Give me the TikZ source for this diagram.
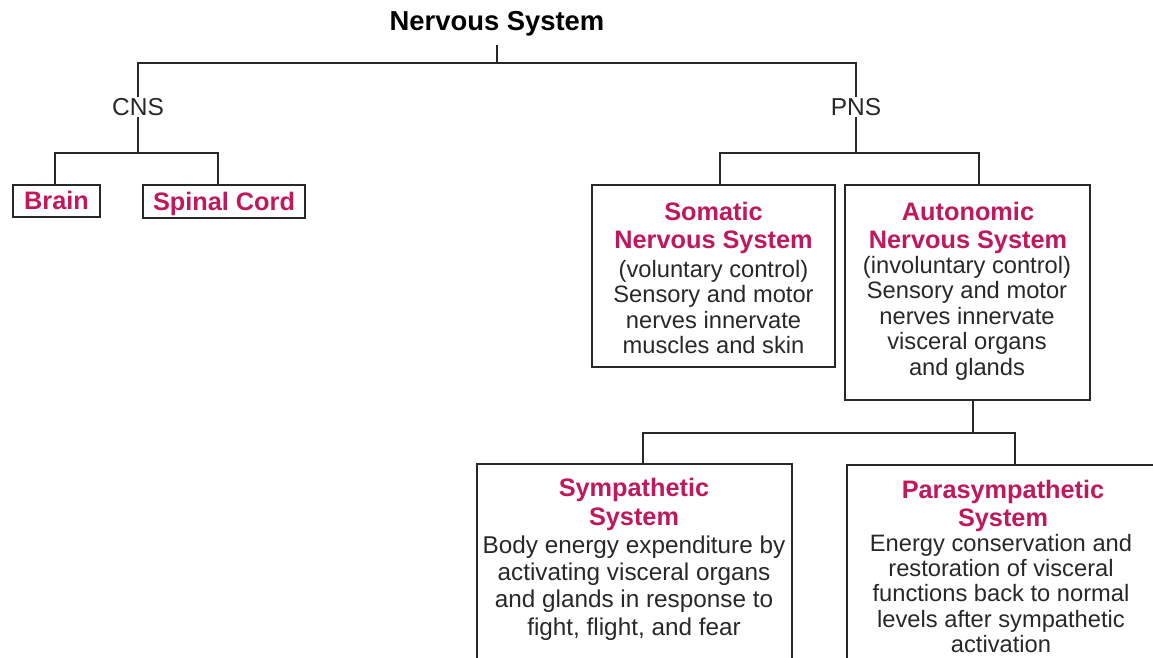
\documentclass[tikz,border=0pt]{standalone}
\usepackage{fontspec}
\setmainfont{Liberation Sans}
\definecolor{mag}{RGB}{192,24,92}
\definecolor{ink}{RGB}{40,40,40}
\begin{document}
\begin{tikzpicture}[x=1pt,y=-1pt,
  box/.style={draw=ink, line width=2.8pt, inner sep=0pt},
  conn/.style={draw=ink, line width=2.8pt, line join=miter},
  hdr/.style={text=mag, font=\bfseries\fontsize{25.3}{28}\selectfont, align=center, inner sep=0pt},
  body/.style={text=ink, font=\fontsize{23.7}{25.5}\selectfont, align=center, inner sep=0pt},
  lbl/.style={text=ink, font=\fontsize{24.5}{25}\selectfont, inner sep=1.5pt}]
\useasboundingbox (0,0) rectangle (1153,658);
\clip (0,0) rectangle (1153,658);

% title
\node[text=black, font=\bfseries\fontsize{27.4}{30}\selectfont, inner sep=2pt] (title) at (497,24) {Nervous System};
\node[lbl] (cns) at (138,107) {CNS};
\node[lbl] (pns) at (856,107) {PNS};

% CNS boxes
\node[box, hdr, text height=17pt, text depth=0pt, minimum width=87pt, minimum height=32pt] (brain) at (56.5,201) {Brain};
\node[box, hdr, text height=17pt, text depth=0pt, minimum width=162pt, minimum height=33pt] (spin) at (224,201.5) {Spinal Cord};

% PNS boxes
\node[box, minimum width=243pt, minimum height=182pt] (som) at (713.5,276) {};
\node[hdr] (somh) at (713.5,228) {Somatic\\Nervous System};
\node[body] (somb) at (713.5,307) {(voluntary control)\\Sensory and motor\\nerves innervate\\muscles and skin};

\node[box, minimum width=245pt, minimum height=215pt] (aut) at (967.5,292.5) {};
\node[hdr] (auth) at (968,228) {Autonomic\\Nervous System};
\node[body] (autb) at (967,318) {(involuntary control)\\Sensory and motor\\nerves innervate\\visceral organs\\and glands};

% ANS boxes (cut off at bottom)
\node[box, minimum width=315pt, minimum height=236pt] (sym) at (634.5,582) {};
\node[hdr, font=\bfseries\fontsize{25.3}{29}\selectfont] (symh) at (634,504.5) {Sympathetic\\System};
\node[body, font=\fontsize{24.3}{27.3}\selectfont] (symb) at (634,588) {Body energy expenditure by\\activating visceral organs\\and glands in response to\\fight, flight, and fear};

\node[box, minimum width=313pt, minimum height=235pt] (par) at (1003.5,582.5) {};
\node[hdr] (parh) at (1003,506) {Parasympathetic\\System};
\node[body, font=\fontsize{23.7}{25.3}\selectfont] (parb) at (1001,593.5) {Energy conservation and\\restoration of visceral\\functions back to normal\\levels after sympathetic\\activation};

% connectors
\coordinate (j0) at (497,63);
\draw[conn] ([yshift=-6pt]title.south) -- (j0);
\draw[conn] (cns.north) -- (cns.north |- j0) -- (pns.north |- j0) -- (pns.north);

\coordinate (cb) at (138,153);
\coordinate (cbl) at (55,153);
\coordinate (cbr) at (218,153);
\draw[conn] (cns.south) -- (cb);
\draw[conn] (cbl |- brain.north) -- (cbl) -- (cbr) -- (cbr |- spin.north);

\coordinate (pb) at (856,153);
\coordinate (pbl) at (720,153);
\coordinate (pbr) at (979,153);
\draw[conn] (pns.south) -- (pb);
\draw[conn] (pbl |- som.north) -- (pbl) -- (pbr) -- (pbr |- aut.north);

\coordinate (ab) at (973,433);
\coordinate (abl) at (643,433);
\coordinate (abr) at (1015,433);
\draw[conn] (ab |- aut.south) -- (ab);
\draw[conn] (abl |- sym.north) -- (abl) -- (abr) -- (abr |- par.north);
\end{tikzpicture}
\end{document}
